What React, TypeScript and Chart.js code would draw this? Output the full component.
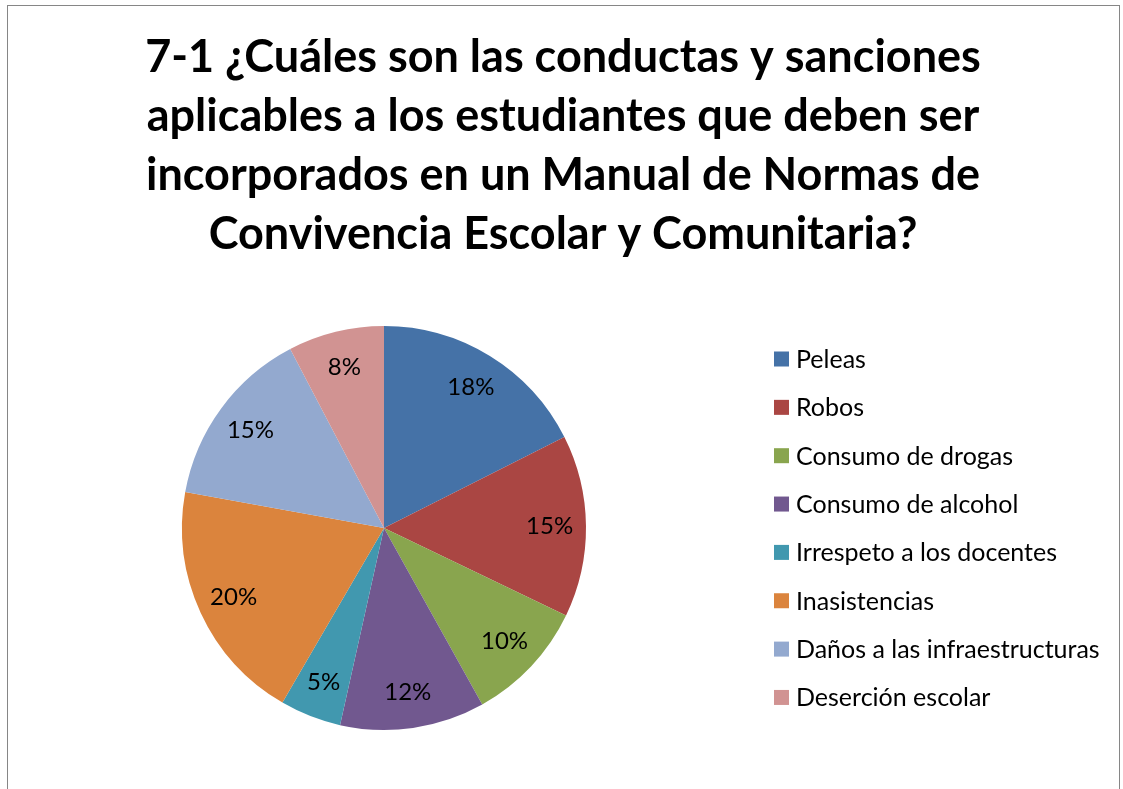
import React, { useEffect, useRef } from "react";
import { Chart, registerables } from "chart.js";

Chart.register(...registerables);

const titleLines: string[] = [
  "7-1 ¿Cuáles son las conductas y sanciones",
  "aplicables a los estudiantes que deben ser",
  "incorporados en un Manual de Normas de",
  "Convivencia Escolar y Comunitaria?",
];

const categories: string[] = [
  "Peleas",
  "Robos",
  "Consumo de drogas",
  "Consumo de alcohol",
  "Irrespeto a los docentes",
  "Inasistencias",
  "Daños a las infraestructuras",
  "Deserción escolar",
];

const shares: number[] = [17.6, 14.6, 9.8, 11.6, 4.9, 19.5, 14.5, 7.7];

const pctLabels: string[] = ["18%", "15%", "10%", "12%", "5%", "20%", "15%", "8%"];

const sliceColors: string[] = [
  "#4572A7",
  "#AA4643",
  "#89A54E",
  "#71588F",
  "#4198AF",
  "#DB843D",
  "#93A9CF",
  "#D19392",
];

const TITLE_FONT = "bold 45px Lato";
const LABEL_FONT = "24px Lato";
const LEGEND_FONT = "25px Lato";

const overlayPlugin = {
  id: "overlay",
  afterDraw(chart: any) {
    const ctx = chart.ctx as CanvasRenderingContext2D;
    ctx.save();
    // Title
    ctx.fillStyle = "#000000";
    ctx.font = TITLE_FONT;
    ctx.textAlign = "center";
    ctx.textBaseline = "alphabetic";
    titleLines.forEach((line, i) => {
      ctx.fillText(line, 563, 72 + i * 59);
    });

    // Data labels
    const meta = chart.getDatasetMeta(0);
    ctx.font = LABEL_FONT;
    ctx.textAlign = "center";
    ctx.textBaseline = "middle";
    meta.data.forEach((arc: any, i: number) => {
      const p = arc.getProps(["x", "y", "startAngle", "endAngle", "outerRadius"], true);
      const mid = (p.startAngle + p.endAngle) / 2;
      const r = p.outerRadius * 0.82;
      ctx.fillText(pctLabels[i], p.x + Math.cos(mid) * r, p.y + Math.sin(mid) * r);
    });

    // Legend
    const colors = chart.data.datasets[0].backgroundColor as string[];
    ctx.font = LEGEND_FONT;
    ctx.textAlign = "left";
    ctx.textBaseline = "alphabetic";
    (chart.data.labels as string[]).forEach((lab, i) => {
      const cy = 359 + i * 48.35;
      ctx.fillStyle = colors[i];
      ctx.fillRect(774, cy - 7.5, 15, 15);
      ctx.fillStyle = "#000000";
      ctx.fillText(lab, 796, cy + 9);
    });
    ctx.restore();
  },
};

export default function App() {
  const canvasRef = useRef<HTMLCanvasElement | null>(null);

  useEffect(() => {
    if (!canvasRef.current) return;
    const chart = new Chart(canvasRef.current, {
      type: "pie",
      data: {
        labels: categories,
        datasets: [
          {
            data: shares,
            backgroundColor: sliceColors,
            borderWidth: 0,
          },
        ],
      },
      options: {
        responsive: false,
        animation: false,
        layout: {
          padding: { left: 182, right: 537, top: 326, bottom: 59 },
        },
        plugins: {
          legend: { display: false },
          title: { display: false },
          tooltip: { enabled: false },
        },
      },
      plugins: [overlayPlugin],
    });
    return () => chart.destroy();
  }, []);

  return (
    <div
      style={{
        position: "fixed",
        left: 0,
        top: 0,
        width: 1123,
        height: 789,
        overflow: "hidden",
        background: "#ffffff",
      }}
    >
      <div
        style={{
          position: "absolute",
          left: 7,
          top: 5,
          width: 1113,
          height: 820,
          border: "1.5px solid #868686",
          boxSizing: "border-box",
        }}
      />
      <canvas
        ref={canvasRef}
        width={1123}
        height={789}
        style={{ position: "absolute", left: 0, top: 0, width: 1123, height: 789 }}
      />
    </div>
  );
}
